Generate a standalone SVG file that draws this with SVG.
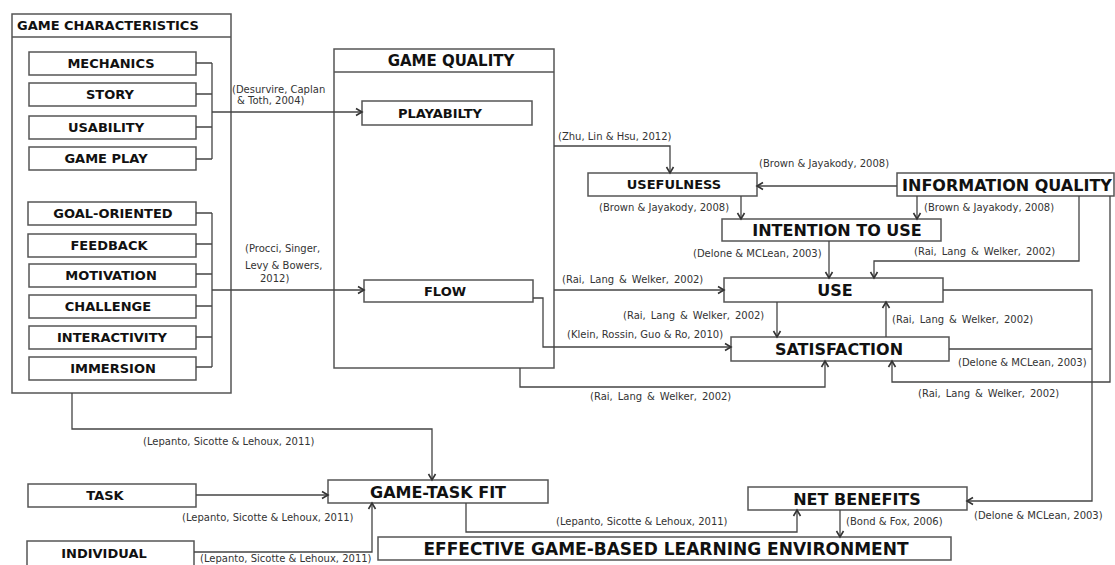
<svg xmlns="http://www.w3.org/2000/svg" width="1115" height="565" viewBox="0 0 1115 565">
<defs>
<style>
.box{fill:#fff;stroke:#555;stroke-width:1.5}
.t{font-family:"DejaVu Sans",Verdana,sans-serif;font-weight:bold;fill:#111;text-anchor:middle}
.s13{font-size:13px}.s15{font-size:15px}.s16{font-size:16px}.s17{font-size:17px}
.lbl{font-family:"DejaVu Sans",Verdana,sans-serif;font-size:10px;fill:#333}
.rai{word-spacing:1.8px}
.ln{fill:none;stroke:#444;stroke-width:1.3}
.ar{marker-end:url(#arr)}
</style>
<marker id="arr" markerUnits="userSpaceOnUse" markerWidth="10" markerHeight="10" refX="6" refY="3.5" orient="auto" overflow="visible">
<path d="M0,0 L6,3.5 L0,7" fill="none" stroke="#333" stroke-width="1.6"/>
</marker>
</defs>
<rect width="1115" height="565" fill="#fff"/>

<g id="game-characteristics">
<rect class="box" x="12" y="14" width="219" height="379"/>
<line x1="12" y1="37" x2="231" y2="37" stroke="#555" stroke-width="1.5"/>
<text class="t s13" x="17" y="30" style="text-anchor:start">GAME CHARACTERISTICS</text>
</g>
<g id="mechanics"><rect class="box" x="29" y="52" width="167" height="23"/><text class="t s13" x="111" y="68">MECHANICS</text></g>
<g id="story"><rect class="box" x="29" y="83" width="167" height="23"/><text class="t s13" x="110" y="99">STORY</text></g>
<g id="usability"><rect class="box" x="29" y="116" width="167" height="23"/><text class="t s13" x="106" y="132">USABILITY</text></g>
<g id="game-play"><rect class="box" x="29" y="147" width="167" height="23"/><text class="t s13" x="106" y="163">GAME PLAY</text></g>
<g id="goal-oriented"><rect class="box" x="28" y="202" width="168" height="23"/><text class="t s13" x="113" y="218">GOAL-ORIENTED</text></g>
<g id="feedback"><rect class="box" x="28" y="234" width="168" height="23"/><text class="t s13" x="109" y="250">FEEDBACK</text></g>
<g id="motivation"><rect class="box" x="29" y="264" width="167" height="23"/><text class="t s13" x="111" y="280">MOTIVATION</text></g>
<g id="challenge"><rect class="box" x="29" y="295" width="167" height="23"/><text class="t s13" x="108" y="311">CHALLENGE</text></g>
<g id="interactivity"><rect class="box" x="29" y="326" width="167" height="23"/><text class="t s13" x="112" y="342">INTERACTIVITY</text></g>
<g id="immersion"><rect class="box" x="29" y="357" width="167" height="23"/><text class="t s13" x="113" y="373">IMMERSION</text></g>

<g id="game-quality">
<rect class="box" x="334" y="49" width="220" height="319"/>
<line x1="334" y1="72" x2="554" y2="72" stroke="#555" stroke-width="1.5"/>
<text class="t s15" x="451" y="66">GAME QUALITY</text>
</g>
<g id="playability"><rect class="box" x="362" y="101" width="170" height="24"/><text class="t s13" x="440" y="118">PLAYABILTY</text></g>
<g id="flow"><rect class="box" x="364" y="280" width="169" height="22"/><text class="t s13" x="445" y="296">FLOW</text></g>

<g id="usefulness"><rect class="box" x="588" y="173" width="169" height="23"/><text class="t s13" x="674" y="189">USEFULNESS</text></g>
<g id="information-quality"><rect class="box" x="897" y="173" width="217" height="23"/><text class="t s16" x="1007" y="190.5">INFORMATION QUALITY</text></g>
<g id="intention-to-use"><rect class="box" x="722" y="219" width="219" height="22"/><text class="t s16" x="837" y="236">INTENTION TO USE</text></g>
<g id="use"><rect class="box" x="724" y="278" width="219" height="24"/><text class="t s16" x="835" y="296">USE</text></g>
<g id="satisfaction"><rect class="box" x="731" y="337" width="218" height="24"/><text class="t s16" x="839" y="355">SATISFACTION</text></g>

<g id="task"><rect class="box" x="28" y="484" width="168" height="23"/><text class="t s13" x="105" y="500">TASK</text></g>
<g id="individual"><rect class="box" x="27" y="541" width="167" height="26"/><text class="t s13" x="104" y="558">INDIVIDUAL</text></g>
<g id="game-task-fit"><rect class="box" x="328" y="480" width="220" height="23"/><text class="t s16" x="438" y="497.5">GAME-TASK FIT</text></g>
<g id="net-benefits"><rect class="box" x="748" y="487" width="219" height="23"/><text class="t s16" x="857" y="504.5">NET BENEFITS</text></g>
<g id="effective-environment"><rect class="box" x="378" y="537" width="573" height="23"/><text class="t s17" x="666" y="554.5">EFFECTIVE GAME-BASED LEARNING ENVIRONMENT</text></g>

<g id="connectors">
<path class="ln" d="M196,63 H212 M196,94 H212 M196,127 H212 M196,159 H212 M212,63 V159"/>
<path class="ln ar" d="M212,112 H362"/>
<path class="ln" d="M196,213 H212 M196,244 H212 M196,274 H212 M196,306 H212 M196,337 H212 M196,367 H212 M212,213 V367"/>
<path class="ln ar" d="M212,290 H364"/>
<path class="ln ar" d="M554,146 H670 V173"/>
<path class="ln ar" d="M897,186 H757"/>
<path class="ln ar" d="M741,196 V219"/>
<path class="ln ar" d="M917,196 V219"/>
<path class="ln ar" d="M1079,196 V261 H874 V278"/>
<path class="ln ar" d="M829,241 V278"/>
<path class="ln ar" d="M554,290 H724"/>
<path class="ln ar" d="M533,298 H543 V347 H731"/>
<path class="ln ar" d="M777,302 V337"/>
<path class="ln ar" d="M886,337 V302"/>
<path class="ln ar" d="M520,368 V387 H825 V361"/>
<path class="ln ar" d="M1110,196 V382 H892 V361"/>
<path class="ln ar" d="M943,290 H1092 V501 H967"/>
<path class="ln" d="M949,349 H1092"/>
<path class="ln ar" d="M72,393 V429 H432 V480"/>
<path class="ln ar" d="M196,495 H328"/>
<path class="ln ar" d="M194,552 H372 V503"/>
<path class="ln ar" d="M466,503 V532 H797 V510"/>
<path class="ln ar" d="M840,510 V537"/>
</g>

<g id="labels">
<text class="lbl" x="232" y="92.5">(Desurvire, Caplan</text>
<text class="lbl" x="237" y="104">&amp; Toth, 2004)</text>
<text class="lbl" x="245" y="252">(Procci, Singer,</text>
<text class="lbl" x="245" y="268.5">Levy &amp; Bowers,</text>
<text class="lbl" x="260" y="282">2012)</text>
<text class="lbl" x="558" y="139.5">(Zhu, Lin &amp; Hsu, 2012)</text>
<text class="lbl" x="599" y="210.5">(Brown &amp; Jayakody, 2008)</text>
<text class="lbl" x="759" y="166.5">(Brown &amp; Jayakody, 2008)</text>
<text class="lbl" x="924" y="210.5">(Brown &amp; Jayakody, 2008)</text>
<text class="lbl" x="693" y="256.5">(Delone &amp; MCLean, 2003)</text>
<text class="lbl rai" x="914" y="254.5">(Rai, Lang &amp; Welker, 2002)</text>
<text class="lbl rai" x="562" y="282.5">(Rai, Lang &amp; Welker, 2002)</text>
<text class="lbl rai" x="623" y="318.5">(Rai, Lang &amp; Welker, 2002)</text>
<text class="lbl rai" x="892" y="322.5">(Rai, Lang &amp; Welker, 2002)</text>
<text class="lbl" x="567" y="337.5">(Klein, Rossin, Guo &amp; Ro, 2010)</text>
<text class="lbl" x="958" y="365.5">(Delone &amp; MCLean, 2003)</text>
<text class="lbl rai" x="590" y="399.5">(Rai, Lang &amp; Welker, 2002)</text>
<text class="lbl rai" x="918" y="396.5">(Rai, Lang &amp; Welker, 2002)</text>
<text class="lbl" x="143" y="444.5">(Lepanto, Sicotte &amp; Lehoux, 2011)</text>
<text class="lbl" x="182" y="520.5">(Lepanto, Sicotte &amp; Lehoux, 2011)</text>
<text class="lbl" x="200" y="562">(Lepanto, Sicotte &amp; Lehoux, 2011)</text>
<text class="lbl" x="556" y="524.5">(Lepanto, Sicotte &amp; Lehoux, 2011)</text>
<text class="lbl" x="846" y="524.5">(Bond &amp; Fox, 2006)</text>
<text class="lbl" x="974" y="518.5">(Delone &amp; MCLean, 2003)</text>
</g>
</svg>
